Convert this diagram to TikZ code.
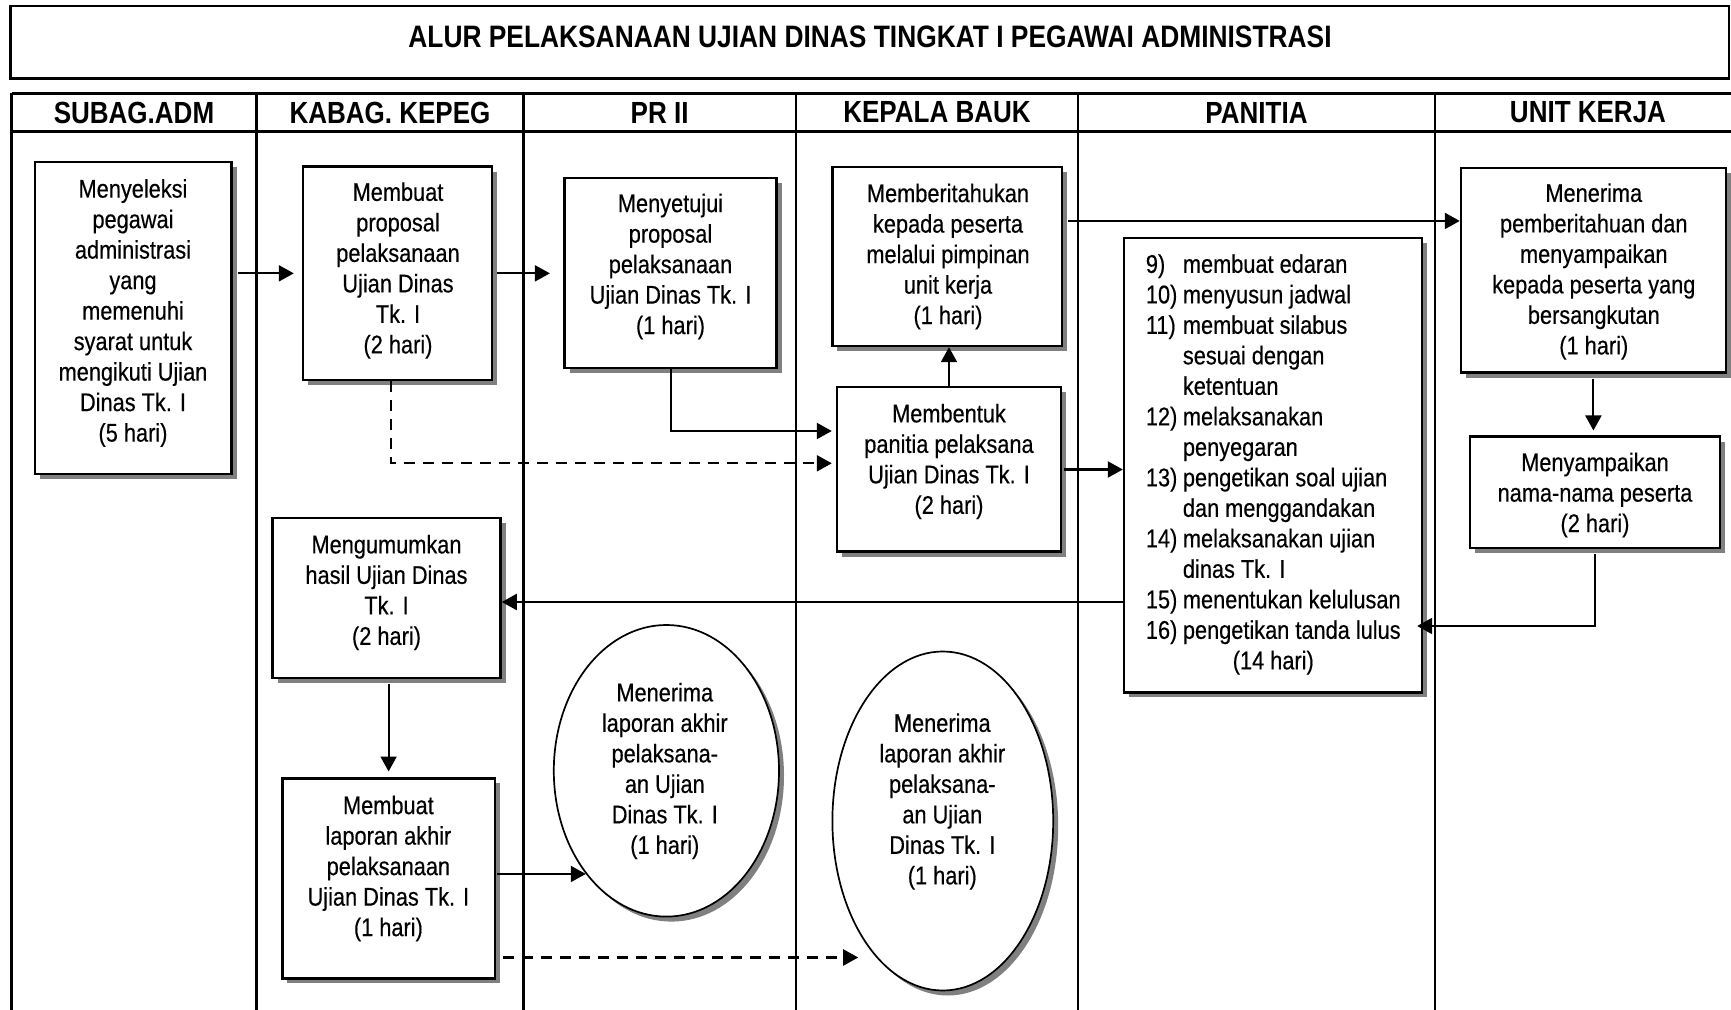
\documentclass[tikz,border=0pt]{standalone}
\usepackage{fontspec}
\setmainfont{Liberation Sans}[FakeStretch=0.85, UprightFeatures={FakeBold=0.4}]
\usetikzlibrary{arrows.meta,shapes.geometric,shadows,fit}

\begin{document}
\begin{tikzpicture}[x=0.5pt,y=-0.5pt,
  every node/.style={inner sep=0pt},
  lane/.style={line width=1.1pt},
  hline/.style={line width=1.35pt},
  shade/.style={drop shadow={shadow xshift=2.5pt, shadow yshift=-2.5pt, fill=black!50, opacity=1}},
  box/.style={draw, line width=1.2pt, fill=white, inner sep=0pt, shade},
  oval/.style={ellipse, draw, line width=0.85pt, fill=white, inner sep=0pt, shade},
  txt/.style={align=center, font=\fontsize{12.8pt}{15.25pt}\selectfont},
  head/.style={font=\bfseries\fontsize{15.3pt}{18pt}\selectfont},
  arr/.style={line width=1.05pt, -{Triangle[length=7.5pt,width=8pt]}},
  darr/.style={arr, dash pattern=on 5.5pt off 4pt},
]
\useasboundingbox (0,0) rectangle (1731,1010);
\clip (0,0) rectangle (1731,1010);

% title bar
\node[draw, line width=1.35pt, fit={(10.7,6) (1729,78.3)}] (title) {};
\node[font=\bfseries\fontsize{15.5pt}{18pt}\selectfont] (ttl) at (870,36.5)
  {ALUR PELAKSANAAN UJIAN DINAS TINGKAT I PEGAWAI ADMINISTRASI};

% swimlanes
\draw[hline] (11.5,93.3) -- (1745,93.3);
\draw[hline] (11.5,131.7) -- (1745,131.7);
\foreach \x in {11.5,256.4,523.5,795.7,1078,1435}
  \draw[lane] (\x,93.3) -- (\x,1015);

\node[head] (h1) at (134,112.5) {SUBAG.ADM};
\node[head] (h2) at (390,112.5) {KABAG. KEPEG};
\node[head] (h3) at (659.6,112.5) {PR II};
\node[head] (h4) at (937,112.5) {KEPALA BAUK};
\node[head] (h5) at (1256.5,112.5) {PANITIA};
\node[head] (h6) at (1588,112.5) {UNIT KERJA};

% process boxes
\node[box, fit={(35,162.3) (231.5,474)}] (b1) {};
\node[box, fit={(303,166.7) (491.8,380)}] (b2) {};
\node[box, fit={(564.5,178.3) (776.6,368.3)}] (b3) {};
\node[box, fit={(832.4,167.3) (1062,346)}] (b4) {};
\node[box, fit={(837,387.3) (1061,551.7)}] (b5) {};
\node[box, fit={(1124,238.3) (1422,692.3)}] (pan) {};
\node[box, fit={(1461,168.3) (1725.8,372.7)}] (u1) {};
\node[box, fit={(1470,436.7) (1719.7,548.3)}] (u2) {};
\node[box, fit={(272.5,518.3) (500.6,678.3)}] (b9) {};
\node[box, fit={(282.4,778.3) (494.8,978.3)}] (b10) {};
\node[oval, minimum width=112.6pt, minimum height=145.8pt] (e1) at (666.4,770.8) {};
\node[oval, minimum width=110.4pt, minimum height=169.5pt] (e2) at (942.8,821) {};

% texts
\node[txt] (t1) at (133,313) {Menyeleksi\\pegawai\\administrasi\\yang\\memenuhi\\syarat untuk\\mengikuti Ujian\\Dinas Tk. I\\(5 hari)};
\node[txt] (t2) at (398,270.5) {Membuat\\proposal\\pelaksanaan\\Ujian Dinas\\Tk. I\\(2 hari)};
\node[txt] (t3) at (670.5,266.5) {Menyetujui\\proposal\\pelaksanaan\\Ujian Dinas Tk. I\\(1 hari)};
\node[txt] (t4) at (948,256.5) {Memberitahukan\\kepada peserta\\melalui pimpinan\\unit kerja\\(1 hari)};
\node[txt] (t5) at (949,461.5) {Membentuk\\panitia pelaksana\\Ujian Dinas Tk. I\\(2 hari)};
\node[txt, anchor=west] (t6) at (1145.5,465) {%
  \begin{tabular}{@{}p{18.5pt}@{}l@{}}
  9) & membuat edaran\\
  10) & menyusun jadwal\\
  11) & membuat silabus\\
      & sesuai dengan\\
      & ketentuan\\
  12) & melaksanakan\\
      & penyegaran\\
  13) & pengetikan soal ujian\\
      & dan menggandakan\\
  14) & melaksanakan ujian\\
      & dinas Tk. I\\
  15) & menentukan kelulusan\\
  16) & pengetikan tanda lulus\\
  \multicolumn{2}{c}{(14 hari)}
  \end{tabular}};
\node[txt] (t7) at (1593.8,271.5) {Menerima\\pemberitahuan dan\\menyampaikan\\kepada peserta yang\\bersangkutan\\(1 hari)};
\node[txt] (t8) at (1595,495) {Menyampaikan\\nama-nama peserta\\(2 hari)};
\node[txt] (t9) at (386.5,592.5) {Mengumumkan\\hasil Ujian Dinas\\Tk. I\\(2 hari)};
\node[txt] (t10) at (388.4,868.5) {Membuat\\laporan akhir\\pelaksanaan\\Ujian Dinas Tk. I\\(1 hari)};
\node[txt] (t11) at (664.8,771) {Menerima\\laporan akhir\\pelaksana-\\an Ujian\\Dinas Tk. I\\(1 hari)};
\node[txt] (t12) at (942.3,801.5) {Menerima\\laporan akhir\\pelaksana-\\an Ujian\\Dinas Tk. I\\(1 hari)};

% connectors
\draw[arr, shorten <=2.5pt, shorten >=4pt] (b1.east |- b2.west) -- (b2.west);
\draw[arr, shorten <=2pt, shorten >=6.7pt] (b2.east) -- (b3.west |- b2.east);
\draw[arr, shorten >=2pt] (b3.south) |- ([yshift=19.25pt]b5.west);
\draw[darr, shorten >=2pt] ([xshift=-3.2pt]b2.south) |- ([yshift=3.1pt]b5.west);
\draw[arr] (b5.north) -- (b5.north |- b4.south);
\draw[arr, shorten <=1pt] (b5.east) -- (pan.west |- b5.east);
\draw[arr, shorten <=2.5pt] ([yshift=17.85pt]b4.east) -- ([yshift=17.85pt]b4.east -| u1.west);
\draw[arr, shorten <=2.5pt, shorten >=2.5pt] (u1.south) -- (u1.south |- u2.north);
\draw[arr, shorten <=2.5pt, shorten >=-3pt] (u2.south) |- ([yshift=-80.35pt]pan.east);
\draw[arr] ([yshift=-68.35pt]pan.west) -- ([yshift=-68.35pt]pan.west -| b9.east);
\draw[arr, shorten <=2.5pt, shorten >=2.8pt] (b10.north |- b9.south) -- (b10.north);
\draw[arr, shorten <=0.5pt] (b10.east |- e1.232) -- (e1.232);
\draw[darr, shorten <=3.3pt, shorten >=9pt] (b10.east |- e2.244) -- (e2.244);
\end{tikzpicture}
\end{document}
